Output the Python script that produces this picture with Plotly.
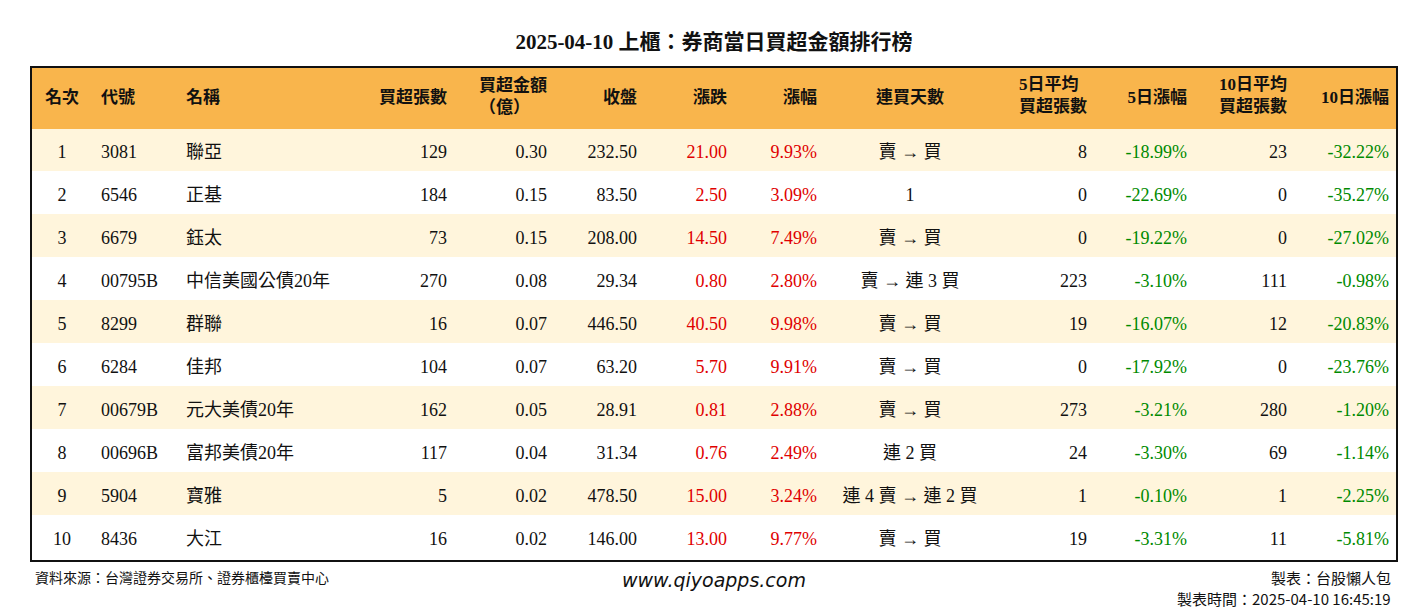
import plotly.graph_objects as go

rank = [1, 2, 3, 4, 5, 6, 7, 8, 9, 10]
code = ["3081", "6546", "6679", "00795B", "8299", "6284", "00679B", "00696B", "5904", "8436"]
name = ["聯亞", "正基", "鈺太", "中信美國公債20年", "群聯", "佳邦", "元大美債20年", "富邦美債20年", "寶雅", "大江"]
net_lots = [129, 184, 73, 270, 16, 104, 162, 117, 5, 16]
net_amt = [0.30, 0.15, 0.15, 0.08, 0.07, 0.07, 0.05, 0.04, 0.02, 0.02]
close = [232.50, 83.50, 208.00, 29.34, 446.50, 63.20, 28.91, 31.34, 478.50, 146.00]
change = [21.00, 2.50, 14.50, 0.80, 40.50, 5.70, 0.81, 0.76, 15.00, 13.00]
pct = [9.93, 3.09, 7.49, 2.80, 9.98, 9.91, 2.88, 2.49, 3.24, 9.77]
streak = ["賣 → 買", "1", "賣 → 買", "賣 → 連 3 買", "賣 → 買", "賣 → 買", "賣 → 買", "連 2 買", "連 4 賣 → 連 2 買", "賣 → 買"]
avg5 = [8, 0, 0, 223, 19, 0, 273, 24, 1, 19]
pct5 = [-18.99, -22.69, -19.22, -3.10, -16.07, -17.92, -3.21, -3.30, -0.10, -3.31]
avg10 = [23, 0, 0, 111, 12, 0, 280, 69, 1, 11]
pct10 = [-32.22, -35.27, -27.02, -0.98, -20.83, -23.76, -1.20, -1.14, -2.25, -5.81]

headers = ["名次", "代號", "名稱", "買超張數", "買超金額<br>（億）", "收盤", "漲跌", "漲幅",
           "連買天數", "5日平均<br>買超張數", "5日漲幅", "10日平均<br>買超張數", "10日漲幅"]

RED, GREEN, BLK = "#e00000", "#008a00", "#111111"
def col(v):
    return [RED if x > 0 else (GREEN if x < 0 else BLK) for x in v]

fills = ["#fff5dc" if i % 2 == 0 else "#ffffff" for i in range(len(rank))]
CLEAR = "rgba(0,0,0,0)"

values = [
    rank, code, name, net_lots,
    [f"{v:.2f}" for v in net_amt],
    [f"{v:.2f}" for v in close],
    [f"{v:.2f}" for v in change],
    [f"{v:.2f}%" for v in pct],
    streak, avg5,
    [f"{v:.2f}%" for v in pct5],
    avg10,
    [f"{v:.2f}%" for v in pct10],
]
colors = [BLK, BLK, BLK, BLK, BLK, BLK, col(change), col(pct), BLK, BLK, col(pct5), BLK, col(pct10)]
fontcolors = [c if isinstance(c, list) else [c] * len(rank) for c in colors]

# page body has an 8px margin, so coords are shifted by 8px
W, H, OFF = 1412, 604, 8
def px(x):
    return (x - OFF) / W
def py(y):
    return 1 - (y - OFF) / H

FONT = "Liberation Serif, Noto Sans CJK TC"
widths = [62, 85, 177, 100, 100, 90, 90, 90, 170, 100, 100, 100, 102]
align = ["center", "left", "left", "right", "right", "right", "right", "right", "center", "right", "right", "right", "right"]
hdr = [f"<b>{h}</b>" if "<br>" in h else f"<span style='font-size:7px'> </span><br><b>{h}</b>" for h in headers]

# table 1: header text and row backgrounds
bg = go.Table(
    columnwidth=widths,
    domain=dict(x=[px(31), px(1397)], y=[0, py(67)]),
    header=dict(values=hdr, fill_color="#f9b54c",
                line_color="#f9b54c", height=61, align=align,
                font=dict(family=FONT, size=17, color="#111")),
    cells=dict(values=[[""] * len(rank)] * 13, fill_color=[fills] * 13,
               line_color=[fills] * 13, height=43),
)
# table 2: cell text only, moved down a little so it sits in the middle of each row
fg = go.Table(
    columnwidth=widths,
    domain=dict(x=[px(31), px(1397)], y=[0, py(75)]),
    header=dict(values=[""] * 13, fill_color=CLEAR, line_color=CLEAR, height=61),
    cells=dict(values=values, fill_color=CLEAR, line_color=CLEAR,
               height=43, align=align,
               font=dict(family=FONT, size=18, color=fontcolors)),
)
fig = go.Figure([bg, fg])

fig.add_shape(type="rect", xref="paper", yref="paper",
              x0=px(31), x1=px(1397), y0=py(561), y1=py(67),
              line=dict(color="#111", width=2))

fig.update_layout(
    width=W, height=H, margin=dict(l=0, r=0, t=0, b=0),
    paper_bgcolor="white",
    title=dict(text="<b>2025-04-10 上櫃：券商當日買超金額排行榜</b>", x=px(714), y=py(42),
               xanchor="center", yanchor="middle",
               font=dict(family=FONT, size=21, color="#111")),
    annotations=[
        dict(text="資料來源：台灣證券交易所、證券櫃檯買賣中心", x=px(33), y=py(577),
             xref="paper", yref="paper", xanchor="left", yanchor="middle", showarrow=False,
             font=dict(family="Noto Sans CJK TC", size=14, color="#111")),
        dict(text="<i>www.qiyoapps.com</i>", x=px(714), y=py(580),
             xref="paper", yref="paper", xanchor="center", yanchor="middle", showarrow=False,
             font=dict(family="DejaVu Sans", size=19, color="#111")),
        dict(text="製表：台股懶人包", x=px(1393), y=py(577),
             xref="paper", yref="paper", xanchor="right", yanchor="middle", showarrow=False,
             font=dict(family="Noto Sans CJK TC", size=15, color="#111")),
        dict(text="製表時間：2025-04-10 16:45:19", x=px(1393), y=py(598),
             xref="paper", yref="paper", xanchor="right", yanchor="middle", showarrow=False,
             font=dict(family="Noto Sans CJK TC", size=15, color="#111")),
    ],
)

fig.write_html("out.html")
